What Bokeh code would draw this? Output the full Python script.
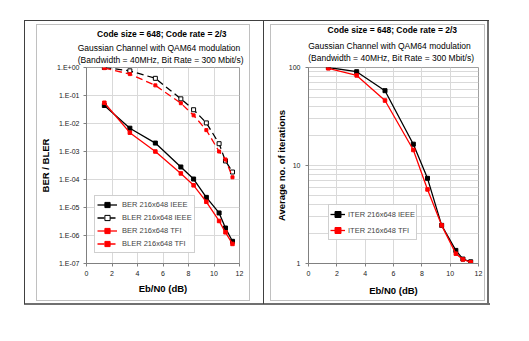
from bokeh.plotting import figure
from bokeh.layouts import row, column
from bokeh.models import FixedTicker, Range1d, Title, Spacer
from bokeh.embed import file_html
from bokeh.resources import INLINE

# ---------------- data ----------------
ebn0 = [1.4, 3.4, 5.4, 7.4, 8.4, 9.4, 10.4, 10.9, 11.45]
ber_ieee = [4.4e-2, 6.8e-3, 2.0e-3, 2.8e-4, 1.04e-4, 2.3e-5, 6.4e-6, 1.85e-6, 6.2e-7]
bler_ieee = [1.0, 0.76, 0.41, 0.076, 0.031, 0.0105, 1.9e-3, 4.6e-4, 1.85e-4]
ber_tfi = [5.5e-2, 4.7e-3, 1.0e-3, 1.65e-4, 6.2e-5, 1.6e-5, 3.3e-6, 1.3e-6, 5.0e-7]
bler_tfi = [0.95, 0.58, 0.23, 0.053, 0.0196, 0.0058, 1.0e-3, 5.2e-4, 1.2e-4]
iter_ieee = [100, 90.6, 58, 16.5, 7.4, 2.45, 1.36, 1.11, 1.04]
iter_tfi = [98, 83, 46, 14.4, 5.7, 2.45, 1.26, 1.1, 1.03]

x_ticks = [0, 2, 4, 6, 8, 10, 12]
ber_ticks = [1e-7, 1e-6, 1e-5, 1e-4, 1e-3, 1e-2, 1e-1, 1.0]
ber_tick_labels = ["1.E-07", "1.E-06", "1.E-05", "1.E-04", "1.E-03", "1.E-02", "1.E-01", "1.E+00"]
iter_ticks = [1, 10, 100]
iter_tick_labels = ["1", "10", "100"]
iter_minor = [2, 3, 4, 5, 6, 7, 8, 9, 20, 30, 40, 50, 60, 70, 80, 90]

title1 = "Code size = 648;  Code rate = 2/3"
title2 = "Gaussian Channel with QAM64 modulation"
title3 = "(Bandwidth = 40MHz,  Bit Rate =  300 Mbit/s)"

FONT = "Liberation Sans"
GRID = "#d9d9d9"
RED = "#ff0000"


def style_axes(p):
    for ax in (p.xaxis[0], p.yaxis[0]):
        ax.major_label_text_font = FONT
        ax.major_label_text_font_size = "7px"
        ax.major_label_text_color = "#222222"
        ax.major_label_standoff = 4
        ax.axis_label_text_font = FONT
        ax.axis_label_text_font_size = "9.5px"
        ax.axis_label_text_font_style = "bold"
        ax.axis_label_text_color = "#000000"
        ax.axis_line_color = "#808080"
        ax.major_tick_line_color = "#808080"
        ax.major_tick_out = 3
        ax.major_tick_in = 0
        ax.minor_tick_line_color = None
    p.outline_line_color = "#a0a0a0"
    p.xgrid.grid_line_color = GRID
    p.ygrid.grid_line_color = GRID
    p.border_fill_alpha = 0
    p.background_fill_color = "white"


def add_titles(p, offset, sub_standoff):
    # first added sits closest to the plot frame
    p.add_layout(Title(text=title2 + "\n" + title3, align="center", offset=offset,
                       standoff=sub_standoff, text_line_height=1.2,
                       text_font=FONT, text_font_size="8.5px", text_font_style="normal",
                       text_color="#000000"), "above")
    p.add_layout(Title(text=title1, align="center", offset=offset, standoff=0,
                       text_font=FONT, text_font_size="8.5px", text_font_style="bold",
                       text_color="#000000"), "above")


def style_legend(lg, loc, lh, gw, pad, standoff):
    lg.location = loc
    lg.label_text_font = FONT
    lg.label_text_font_size = "7.5px"
    lg.label_height = lh
    lg.glyph_height = lh
    lg.glyph_width = gw
    lg.label_standoff = standoff
    lg.spacing = 0
    lg.padding = pad
    lg.margin = 0
    lg.border_line_color = "#a0a0a0"


# ---------------- left figure ----------------
p1 = figure(width=212, height=279, y_axis_type="log", output_backend="svg",
            toolbar_location=None, x_range=Range1d(0, 12), y_range=Range1d(1e-7, 1),
            min_border_left=44, min_border_right=10, min_border_top=44, min_border_bottom=37)
p1.title = None
p1.xaxis.ticker = FixedTicker(ticks=x_ticks)
p1.yaxis.ticker = FixedTicker(ticks=ber_ticks)
p1.yaxis.major_label_overrides = {t: l for t, l in zip(ber_ticks, ber_tick_labels)}
p1.xaxis.axis_label = "Eb/N0 (dB)"
p1.yaxis.axis_label = "BER / BLER"
style_axes(p1)
p1.yaxis.axis_label_standoff = 3
p1.xaxis.axis_label_standoff = 4

p1.line(ebn0, ber_ieee, color="black", line_width=1.3, legend_label="BER 216x648 IEEE")
p1.scatter(ebn0, ber_ieee, marker="square", size=4, color="black", legend_label="BER 216x648 IEEE")
p1.line(ebn0, bler_ieee, color="black", line_width=1.3, line_dash="7 4", legend_label="BLER 216x648 IEEE")
p1.scatter(ebn0, bler_ieee, marker="square", size=4, line_color="black", fill_color="white",
           legend_label="BLER 216x648 IEEE")
p1.line(ebn0, ber_tfi, color=RED, line_width=1.3, legend_label="BER 216x648 TFI")
p1.scatter(ebn0, ber_tfi, marker="square", size=3.5, color=RED, legend_label="BER 216x648 TFI")
p1.line(ebn0, bler_tfi, color=RED, line_width=1.3, line_dash="7 4", legend_label="BLER 216x648 TFI")
p1.scatter(ebn0, bler_tfi, marker="square", size=3, color=RED, legend_label="BLER 216x648 TFI")
style_legend(p1.legend[0], (8, 10), 13, 20, 2, 5)
add_titles(p1, 4.5, 5)

# ---------------- right figure ----------------
p2 = figure(width=213, height=279, y_axis_type="log", output_backend="svg",
            toolbar_location=None, x_range=Range1d(0, 12), y_range=Range1d(1, 100),
            min_border_left=35, min_border_right=7, min_border_top=46, min_border_bottom=33)
p2.title = None
p2.xaxis.ticker = FixedTicker(ticks=x_ticks)
p2.yaxis.ticker = FixedTicker(ticks=iter_ticks, minor_ticks=iter_minor)
p2.yaxis.major_label_overrides = {t: l for t, l in zip(iter_ticks, iter_tick_labels)}
p2.xaxis.axis_label = "Eb/N0 (dB)"
p2.yaxis.axis_label = "Average no. of iterations"
style_axes(p2)
p2.ygrid.minor_grid_line_color = GRID
p2.yaxis.axis_label_standoff = -1
p2.xaxis.axis_label_standoff = 6

p2.line(ebn0, iter_ieee, color="black", line_width=1.3, legend_label="ITER 216x648 IEEE")
p2.scatter(ebn0, iter_ieee, marker="square", size=4, color="black", legend_label="ITER 216x648 IEEE")
p2.line(ebn0, iter_tfi, color=RED, line_width=1.3, legend_label="ITER 216x648 TFI")
p2.scatter(ebn0, iter_tfi, marker="square", size=3.5, color=RED, legend_label="ITER 216x648 TFI")
style_legend(p2.legend[0], (20, 23), 16, 15, 1, 3)
add_titles(p2, 6.5, 9)

# ---------------- panel frames drawn as CSS background strips behind the canvases ----------------
strips = [
    # outer dark frame
    (24, 20, 465, 1, "#404040"), (24, 20, 1, 284, "#404040"),
    (263, 20, 1, 284, "#404040"), (24, 303, 466, 2, "#707070"), (487, 20, 2, 285, "#707070"),
    # inner light frame, left panel
    (36, 24, 214, 1, "#c0c0c0"), (36, 300, 214, 1, "#c0c0c0"),
    (36, 24, 1, 277, "#c0c0c0"), (249, 24, 1, 277, "#c0c0c0"),
    # inner light frame, right panel
    (270, 24, 215, 1, "#c0c0c0"), (270, 300, 215, 1, "#c0c0c0"),
    (270, 24, 1, 277, "#c0c0c0"), (484, 24, 1, 277, "#c0c0c0"),
]
bg = ", ".join(f"linear-gradient({c},{c}) {x}px {y}px / {w}px {h}px no-repeat" for x, y, w, h, c in strips)

layout = column(Spacer(height=21),
                row(Spacer(width=37), p1, Spacer(width=23), p2, Spacer(width=12), spacing=0),
                Spacer(height=8),
                spacing=0, styles={"background": bg + ", #ffffff"})
open("out.html", "w").write(file_html(layout, INLINE))
